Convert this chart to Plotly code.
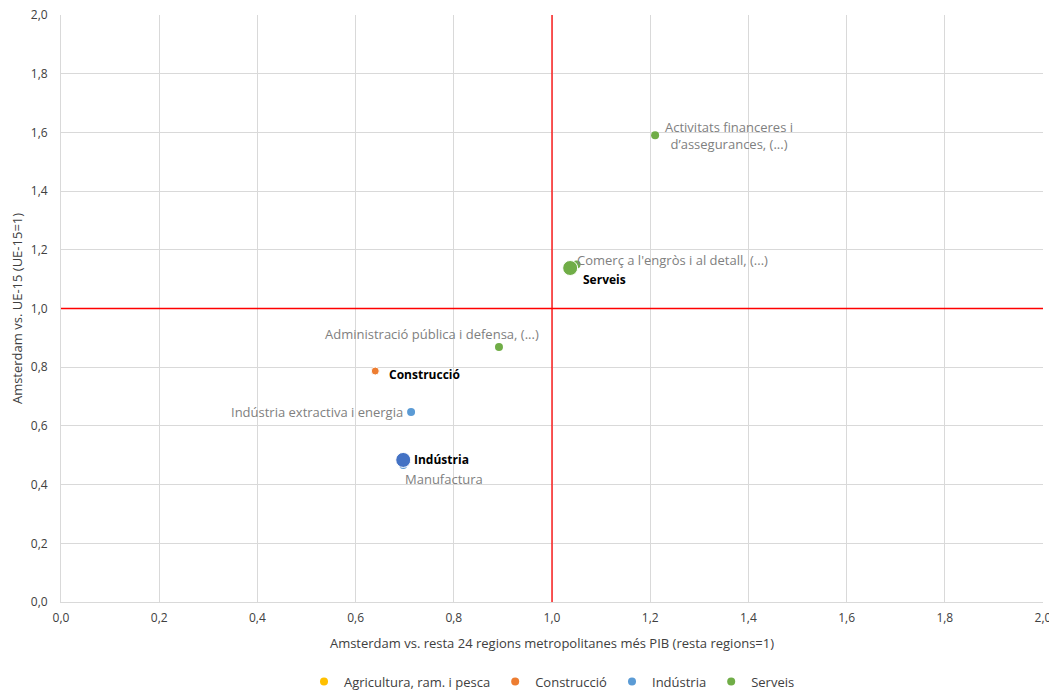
import plotly.graph_objects as go

# Data
sector_names = ["Agricultura, ram. i pesca", "Construcció", "Indústria", "Serveis"]
sector_colors = ["#FFC000", "#ED7D31", "#5B9BD5", "#70AD47"]

# Sub-sector points (small markers)
sub_labels = ["Activitats financeres i<br>d’assegurances, (...)", "Comerç a l'engròs i al detall, (...)",
              "Administració pública i defensa, (...)", "Indústria extractiva i energia", "Manufactura"]
sub_x = [1.21, 1.05, 0.892, 0.713, 0.697]
sub_y = [1.59, 1.15, 0.869, 0.647, 0.467]
sub_group = ["Serveis", "Serveis", "Serveis", "Indústria", "Indústria"]

# Aggregate sector points
agg_labels = ["Construcció", "Indústria", "Serveis"]
agg_x = [0.640, 0.697, 1.037]
agg_y = [0.787, 0.484, 1.138]
agg_size = [8, 15, 15]
agg_colors = ["#ED7D31", "#4472C4", "#70AD47"]

font_family = "Open Sans, Liberation Sans, sans-serif"
fig = go.Figure()

# legend traces
for name, col in zip(sector_names, sector_colors):
    fig.add_trace(go.Scatter(x=[None], y=[None], mode="markers", name=name,
                             marker=dict(color=col, size=8, opacity=1), showlegend=True))

col_map = dict(zip(sector_names, sector_colors))
fig.add_trace(go.Scatter(x=sub_x, y=sub_y, mode="markers", showlegend=False,
                         marker=dict(color=[col_map[g] for g in sub_group], size=8, opacity=1)))
fig.add_trace(go.Scatter(x=agg_x, y=agg_y, mode="markers", showlegend=False,
                         marker=dict(color=agg_colors, size=agg_size, opacity=1)))

grey = "#808080"
sub_pos = [
    dict(xanchor="left", yanchor="middle", xshift=8, yshift=0),
    dict(xanchor="left", yanchor="middle", xshift=-2, yshift=4),
    dict(xanchor="right", yanchor="bottom", xshift=42, yshift=2),
    dict(xanchor="right", yanchor="middle", xshift=-6, yshift=0),
    dict(xanchor="left", yanchor="middle", xshift=0, yshift=-14),
]
for lab, x, y, p in zip(sub_labels, sub_x, sub_y, sub_pos):
    fig.add_annotation(x=x, y=y, text=lab, showarrow=False, font=dict(size=13, color=grey, family=font_family),
                       align="center", **p)

agg_pos = [
    dict(xshift=12, yshift=-3),
    dict(xshift=9, yshift=0),
    dict(xshift=11, yshift=-11),
]
for lab, x, y, p in zip(agg_labels, agg_x, agg_y, agg_pos):
    fig.add_annotation(x=x, y=y, text="<b>" + lab + "</b>", showarrow=False, xanchor="left", yanchor="middle",
                       font=dict(size=12, color="#000000", family=font_family), **p)

fig.add_shape(type="line", x0=1, x1=1, y0=0, y1=2, xref="x", yref="y", line=dict(color="#FF0000", width=1.3))
fig.add_shape(type="line", x0=0, x1=2, y0=1, y1=1, xref="x", yref="y", line=dict(color="#FF0000", width=1.3))

axis_common = dict(range=[0, 2], dtick=0.2, tickformat=".1f", gridcolor="#D9D9D9", gridwidth=1,
                   showline=True, linecolor="#D9D9D9", zeroline=False, automargin=False,
                   ticks="outside", tickcolor="rgba(0,0,0,0)", ticklabeloverflow="allow",
                   tickfont=dict(size=12, color="#404040", family=font_family))
fig.update_xaxes(**axis_common, ticklen=5,
                 title=dict(text="Amsterdam vs. resta 24 regions metropolitanes més PIB (resta regions=1)",
                            font=dict(size=13, color="#404040", family=font_family), standoff=13))
fig.update_yaxes(**axis_common, ticklen=10,
                 title=dict(text="Amsterdam vs. UE-15 (UE-15=1)",
                            font=dict(size=13, color="#404040", family=font_family), standoff=8))

fig.update_layout(
    width=1049, height=684,
    margin=dict(l=53, r=14, t=7, b=90, autoexpand=False),
    plot_bgcolor="white", paper_bgcolor="white",
    separators=",.",
    font=dict(family=font_family, size=12, color="#404040"),
    legend=dict(orientation="h", x=0.5, xanchor="center", y=-0.110, yanchor="top",
                font=dict(size=13, color="#404040", family=font_family), itemwidth=30,
                tracegroupgap=0),
)

fig.write_html("out.html")
